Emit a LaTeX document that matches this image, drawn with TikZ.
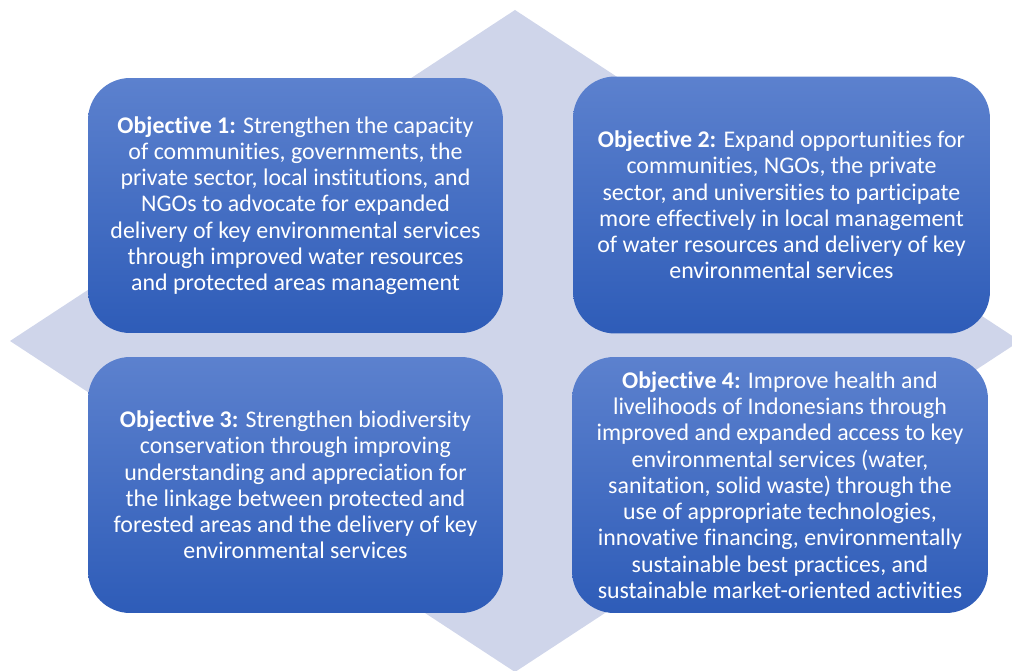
\documentclass[tikz,border=0pt]{standalone}
\usepackage{fontspec}
\setmainfont{Carlito}[Ligatures={NoCommon,NoRare,NoContextual}]
\definecolor{diamondblue}{RGB}{207,213,234}
\definecolor{boxtop}{RGB}{92,129,206}
\definecolor{boxbottom}{RGB}{46,92,184}
\begin{document}
\begin{tikzpicture}[x=0.02cm,y=-0.02cm,
	objbox/.style={rounded corners=0.84cm,top color=boxtop,bottom color=boxbottom,
		text=white,align=center,inner sep=0pt,
		font=\fontsize{13.6}{14.95}\selectfont},
	objhead/.style={font=\bfseries}]
\useasboundingbox (0,0) rectangle (1012,671);
\clip (0,0) rectangle (1012,671);
% diamond behind the four objectives
\coordinate (W) at (10,341);
\coordinate (N) at (515,10);
\coordinate (E) at (1020,341);
\coordinate (S) at (515,672);
\fill[diamondblue] (W)--(N)--(E)--(S)--cycle;
% the objectives
\node[objbox,minimum width=8.3cm,minimum height=5.1cm] (obj1) at (295.5,205.5)
	{\textbf{Objective 1:} Strengthen the capacity\\
	of communities, governments, the\\
	private sector, local institutions, and\\
	NGOs to advocate for expanded\\
	delivery of key environmental services\\
	through improved water resources\\
	and protected areas management};
\node[objbox,minimum width=8.34cm,minimum height=5.14cm] (obj2) at (781.5,205)
	{\textbf{Objective 2:} Expand opportunities for\\
	communities, NGOs, the private\\
	sector, and universities to participate\\
	more effectively in local management\\
	of water resources and delivery of key\\
	environmental services};
\node[objbox,minimum width=8.3cm,minimum height=5.12cm] (obj3) at (295.5,485)
	{\textbf{Objective 3:} Strengthen biodiversity\\
	conservation through improving\\
	understanding and appreciation for\\
	the linkage between protected and\\
	forested areas and the delivery of key\\
	environmental services};
\node[objbox,minimum width=8.32cm,minimum height=5.12cm] (obj4) at (780,485)
	{\textbf{Objective 4:} Improve health and\\
	livelihoods of Indonesians through\\
	improved and expanded access to key\\
	environmental services (water,\\
	sanitation, solid waste) through the\\
	use of appropriate technologies,\\
	innovative financing, environmentally\\
	sustainable best practices, and\\
	sustainable market-oriented activities};
\end{tikzpicture}
\end{document}
